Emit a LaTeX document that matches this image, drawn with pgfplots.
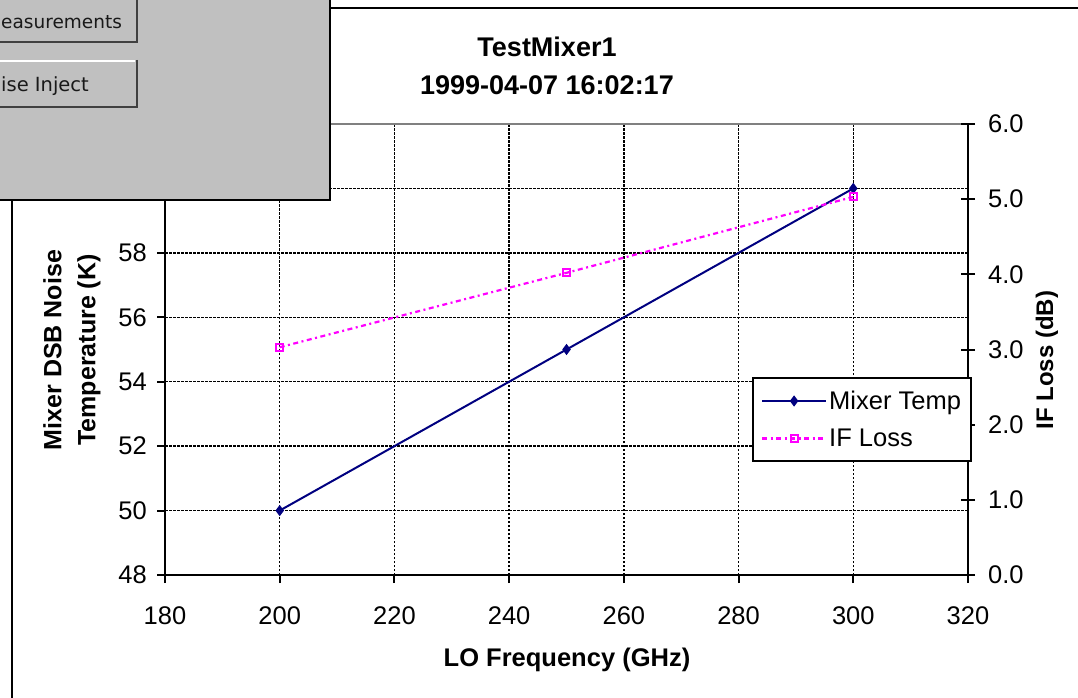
\documentclass[border=0pt]{standalone}
\usepackage{pgfplots}
\pgfplotsset{compat=1.18}
\usepackage{fontspec}
\setmainfont{Liberation Sans}
\newfontfamily\dlgfont{DejaVu Sans}

\definecolor{mixnavy}{RGB}{0,0,128}
\definecolor{ifmag}{RGB}{255,0,255}
\definecolor{dlggray}{RGB}{192,192,192}
\definecolor{dlgdark}{RGB}{64,64,64}
\definecolor{plotgray}{RGB}{128,128,128}

\newcommand\tk{\fontsize{25.5}{29}\selectfont}

% px of the screenshot = pt here, y counted from the bottom
\pgfplotsset{
  base/.style={
    scale only axis, width=803pt, height=451pt,
    at={(165pt,122pt)}, anchor=south west,
    xmin=180, xmax=320,
    /pgf/number format/assume math mode=true,
    tick label style={font=\tk},
    axis line style={line width=2pt, -},
    major tick style={line width=2pt, black},
  },
  mixer/.style={mixnavy, line width=2pt, mark=diamond*, mark size=4pt,
    mark options={solid, fill=mixnavy}},
  ifloss/.style={ifmag, line width=2.2pt, dash pattern=on 5pt off 3.5pt on 2pt off 3.5pt,
    mark=square, mark size=3.5pt, mark options={solid, line width=2pt, fill=white}},
}

\begin{document}
\begin{tikzpicture}
\useasboundingbox (0,0) rectangle (1078pt,697pt);
\clip (0,0) rectangle (1078pt,697pt);
\fill[white] (0,0) rectangle (1078pt,697pt);

% chart area border
\draw[black, line width=2pt] (330pt,689pt) -- (1090pt,689pt);
\draw[black, line width=2pt] (12pt,497pt) -- (12pt,-10pt);

\begin{axis}[base,
  axis x line*=bottom, axis y line*=left,
  ymin=48, ymax=62,
  ytick={48,50,...,60},
  xtick={180,200,...,320},
  tick align=outside, major tick length=8pt,
  grid=major,
  major grid style={black, line width=1.5pt, dash pattern=on 2.5pt off 1.5pt},
  xticklabel style={anchor=north, inner sep=0pt, yshift=-23pt},
  yticklabel style={anchor=east, inner sep=0pt, xshift=-10pt},
]
\addplot[mixer] coordinates {(200,50) (250,55) (300,60)};
\draw[plotgray, line width=2pt] (rel axis cs:0,1) -- (rel axis cs:1,1);
\end{axis}

\begin{axis}[base,
  axis y line*=right, axis x line=none,
  ymin=0, ymax=6, ytick={0,1,...,6},
  tick align=center, major tick length=14pt,
  yticklabel style={anchor=west, inner sep=0pt, xshift=13pt,
    /pgf/number format/fixed, /pgf/number format/fixed zerofill,
    /pgf/number format/precision=1},
  legend style={at={(0.731,0.439)}, anchor=north west, draw=black, line width=2pt,
    font=\fontsize{25.5}{29}\selectfont, row sep=14pt,
    inner xsep=8pt, inner ysep=11pt, cells={anchor=west}},
  legend image code/.code={
    \draw[mark repeat=2, mark phase=2, #1] plot coordinates {(0pt,0pt) (32pt,0pt) (64pt,0pt)};},
]
\addlegendimage{mixer}
\addlegendentry{Mixer Temp}
\addplot[ifloss] coordinates {(200,3.03) (250,4.02) (300,5.03)};
\addlegendentry{IF Loss}
\end{axis}

% titles and axis labels
\node[font=\fontsize{27}{38}\selectfont\bfseries, align=center] at (547pt,631pt)
  {TestMixer1\\1999-04-07 16:02:17};
\node[font=\fontsize{25.5}{30}\selectfont\bfseries] at (567pt,37pt) {LO Frequency (GHz)};
\node[font=\fontsize{25}{34}\selectfont\bfseries, align=center, rotate=90] at (72pt,347pt)
  {Mixer DSB Noise\\Temperature (K)};
\node[font=\fontsize{24}{30}\selectfont\bfseries, rotate=90] at (1047pt,337pt) {IF Loss (dB)};

% dialog window lying over the top left corner
\fill[dlggray] (-5pt,497pt) rectangle (330pt,705pt);
\draw[black, line width=2.5pt] (330pt,705pt) -- (330pt,497pt) -- (-5pt,497pt);
% buttons
\fill[dlggray] (-5pt,655pt) rectangle (137pt,705pt);
\draw[dlgdark, line width=2pt] (137pt,705pt) -- (137pt,655pt) -- (-5pt,655pt);
\fill[dlggray] (-5pt,590pt) rectangle (137pt,636pt);
\draw[white, line width=2pt] (-5pt,636pt) -- (135pt,636pt);
\draw[dlgdark, line width=2pt] (137pt,637pt) -- (137pt,590pt) -- (-5pt,590pt);
\node[font=\dlgfont\fontsize{18.5}{22}\selectfont, anchor=base west, inner sep=0pt, text=black!90]
  at (1pt,668pt) {easurements};
\node[font=\dlgfont\fontsize{19.5}{23}\selectfont, anchor=base west, inner sep=0pt, text=black!90]
  at (1pt,605pt) {ise Inject};
\end{tikzpicture}
\end{document}
